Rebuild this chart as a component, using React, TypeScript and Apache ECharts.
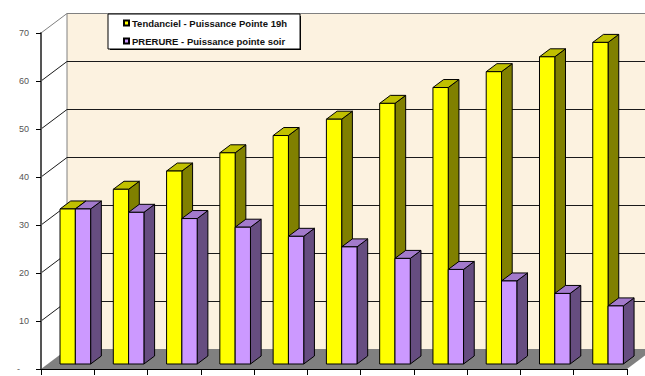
import React, { useEffect, useRef } from "react";
import * as echarts from "echarts";

const categories = ["1", "2", "3", "4", "5", "6", "7", "8", "9", "10", "11"];
const tendanciel = [32.3, 36.4, 40.2, 44, 47.6, 51, 54.3, 57.6, 60.9, 64, 67];
const prerure = [32.3, 31.6, 30.3, 28.5, 26.6, 24.4, 22, 19.7, 17.3, 14.7, 12.1];
const gridValues = [10, 20, 30, 40, 50, 60];
const legendNames = [
  "Tendanciel - Puissance Pointe 19h",
  "PRERURE - Puissance pointe soir",
];

// Oblique projection of the chart box and of the columns inside it.
const WALL_DX = 26;
const WALL_DY = -19.5;
const COL_SHIFT_X = 7.7;
const COL_SHIFT_Y = -5;
const COL_WIDTH = 15.3;
const COL_DX = 10.7;
const COL_DY = -8;

const EDGE = { stroke: "#000", lineWidth: 1 };

function column(front: string, top: string, side: string, slot: number) {
  return (params: any, api: any) => {
    const p = api.coord([api.value(0), api.value(1)]);
    const base = api.coord([api.value(0), 0]);
    const x0 = p[0] + COL_SHIFT_X + slot * COL_WIDTH;
    const x1 = x0 + COL_WIDTH;
    const yTop = p[1] + COL_SHIFT_Y;
    const yBase = base[1] + COL_SHIFT_Y;
    const poly = (points: number[][], fill: string) => ({
      type: "polygon",
      shape: { points },
      style: { fill, ...EDGE },
    });
    return {
      type: "group",
      children: [
        poly(
          [[x1, yTop], [x1 + COL_DX, yTop + COL_DY], [x1 + COL_DX, yBase + COL_DY], [x1, yBase]],
          side
        ),
        poly(
          [[x0, yTop], [x0 + COL_DX, yTop + COL_DY], [x1 + COL_DX, yTop + COL_DY], [x1, yTop]],
          top
        ),
        poly([[x0, yTop], [x1, yTop], [x1, yBase], [x0, yBase]], front),
      ],
    };
  };
}

function renderBox(params: any) {
  const g = params.coordSys;
  const right = g.x + g.width;
  const bottom = g.y + g.height;
  return {
    type: "group",
    children: [
      {
        type: "rect",
        shape: { x: g.x + WALL_DX, y: g.y + WALL_DY, width: g.width, height: g.height },
        style: { fill: "#FCF2E0", stroke: "#808080", lineWidth: 1 },
      },
      {
        type: "polygon",
        shape: {
          points: [
            [g.x, bottom],
            [g.x + WALL_DX, bottom + WALL_DY],
            [right + WALL_DX, bottom + WALL_DY],
            [right, bottom],
          ],
        },
        style: { fill: "#808080" },
      },
      {
        type: "line",
        shape: { x1: g.x, y1: g.y, x2: g.x + WALL_DX, y2: g.y + WALL_DY },
        style: { stroke: "#808080", lineWidth: 1 },
      },
    ],
  };
}

function renderGridLine(params: any, api: any) {
  const g = params.coordSys;
  const y = api.coord([0, api.value(1)])[1];
  return {
    type: "polyline",
    shape: {
      points: [
        [g.x, y],
        [g.x + WALL_DX, y + WALL_DY],
        [g.x + WALL_DX + g.width, y + WALL_DY],
      ],
    },
    style: { fill: "none", stroke: "#1a1a1a", lineWidth: 1 },
  };
}

export default function App() {
  const ref = useRef<HTMLDivElement>(null);

  useEffect(() => {
    document.body.style.margin = "0";
    const chart = echarts.init(ref.current!, undefined, { renderer: "svg" });
    chart.setOption({
      animation: false,
      backgroundColor: "#fff",
      grid: { left: 41, top: 33, width: 586, height: 336 },
      legend: {
        data: legendNames,
        orient: "vertical",
        left: 108,
        top: 14,
        padding: [4, 13, 3, 15],
        itemWidth: 5,
        itemHeight: 5,
        itemGap: 8,
        icon: "rect",
        align: "left",
        backgroundColor: "#fff",
        borderColor: "#000",
        borderWidth: 1,
        z: 6,
        textStyle: {
          fontFamily: "Liberation Sans",
          fontSize: 9.5,
          fontWeight: "bold",
          color: "#111",
          padding: [0, 0, 0, -2],
        },
      },
      graphic: [
        {
          type: "rect",
          z: 5,
          shape: { x: 110, y: 16, width: 191, height: 34 },
          style: { fill: "#000" },
        },
      ],
      xAxis: {
        type: "category",
        data: categories,
        z: 20,
        axisLine: { show: true, onZero: false, lineStyle: { color: "#000", width: 1 } },
        axisTick: { show: true, interval: 0, length: 6, lineStyle: { color: "#000", width: 1 } },
        axisLabel: { show: false },
        splitLine: { show: false },
      },
      yAxis: {
        type: "value",
        min: 0,
        max: 70,
        interval: 10,
        z: 20,
        axisLine: { show: true, lineStyle: { color: "#555", width: 2 } },
        axisTick: { show: true, length: 5, lineStyle: { color: "#000", width: 1 } },
        splitLine: { show: false },
        axisLabel: {
          fontFamily: "Liberation Sans",
          fontSize: 9,
          color: "#555",
          margin: 12,
          showMinLabel: true,
          hideOverlap: false,
          formatter: (v: number) => (v === 0 ? "{dash|-}" : String(v)),
          rich: {
            dash: {
              fontFamily: "Liberation Sans",
              fontSize: 9,
              color: "#555",
              padding: [0, 9, 0, 0],
            },
          },
        },
      },
      series: [
        {
          type: "custom",
          name: "box",
          z: 1,
          silent: true,
          data: [[0, 0]],
          encode: { x: 0, y: 1 },
          renderItem: renderBox,
        },
        {
          type: "custom",
          name: "grid",
          z: 1,
          silent: true,
          data: gridValues.map((v) => [0, v]),
          encode: { x: 0, y: 1 },
          renderItem: renderGridLine,
        },
        {
          type: "custom",
          name: legendNames[0],
          z: 2,
          itemStyle: { color: "#FFFF00", borderColor: "#000", borderWidth: 1 },
          data: tendanciel.map((v, i) => [i, v]),
          encode: { x: 0, y: 1 },
          renderItem: column("#FFFF00", "#C0C000", "#808000", -1),
        },
        {
          type: "custom",
          name: legendNames[1],
          z: 3,
          itemStyle: { color: "#CC99FF", borderColor: "#000", borderWidth: 1 },
          data: prerure.map((v, i) => [i, v]),
          encode: { x: 0, y: 1 },
          renderItem: column("#CC99FF", "#A37ACC", "#664D80", 0),
        },
      ],
    });
    return () => chart.dispose();
  }, []);

  return <div ref={ref} style={{ position: "absolute", left: 0, top: 0, width: 645, height: 376 }} />;
}
